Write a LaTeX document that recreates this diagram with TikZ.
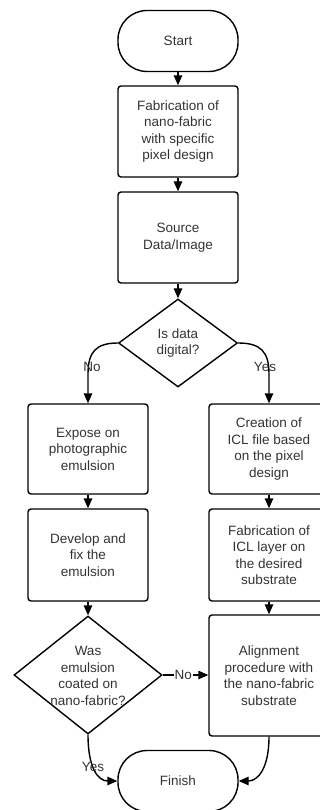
\documentclass[tikz,border=0pt]{standalone}
\usepackage{fontspec}
\setmainfont{Liberation Sans}
\usetikzlibrary{shapes.geometric,arrows.meta}
\begin{document}
\begin{tikzpicture}[x=1pt,y=-1pt,
  every node/.style={font=\fontsize{13.5}{16.5}\selectfont, text=black!80},
  box/.style={draw, line width=1.4pt, rounded corners=3pt, minimum width=120pt, align=center, inner sep=0pt},
  term/.style={draw, line width=1.4pt, rounded corners=29pt, minimum width=120pt, minimum height=61pt, inner sep=0pt},
  decision/.style={draw, diamond, line width=1.4pt, inner sep=0pt},
  arr/.style={line width=1.4pt, -{Triangle[length=10pt,width=8.5pt]}},
  lbl/.style={inner sep=1pt, align=center}]
\useasboundingbox (0,0) rectangle (320,810);
\clip (0,0) rectangle (320,810);
\node[term] (start) at (178,41) {Start};
\node[box, minimum height=91pt] (b1) at (178,131.5) {Fabrication of\\nano-fabric\\with specific\\pixel design};
\node[box, minimum height=91pt] (b2) at (178,237.5) {Source\\Data/Image};
\node[decision, minimum width=119pt, minimum height=88pt] (d1) at (178,343) {};
\node[lbl] (d1t) at (d1.center) {Is data\\digital?};
\node[box, minimum height=90pt] (l1) at (88,449) {Expose on\\photographic\\emulsion};
\node[box, minimum height=92pt] (l2) at (88,555) {Develop and\\fix the\\emulsion};
\node[decision, minimum width=148pt, minimum height=118pt] (d2) at (88,675) {};
\node[lbl] (d2t) at (88,676) {Was\\emulsion\\coated on\\nano-fabric?};
\node[box, minimum height=90pt] (r1) at (269,449) {Creation of\\ICL file based\\on the pixel\\design};
\node[box, minimum height=92pt] (r2) at (269,555) {Fabrication of\\ICL layer on\\the desired\\substrate};
\node[box, minimum height=121pt] (r3) at (269,675.5) {Alignment\\procedure with\\the nano-fabric\\substrate};
\node[term] (fin) at (178,781) {Finish};
\draw[arr] (start) -- (b1);
\draw[arr] (b1) -- (b2);
\draw[arr] (b2) -- (d1);
\draw[arr] (d1.west) .. controls (96,343) and (88,352) .. (88,374) -- (l1.north);
\node[lbl] (no1) at (92,367) {No};
\draw[arr] (d1.east) .. controls (261,343) and (269,352) .. (269,374) -- (r1.north);
\node[lbl] (yes1) at (265,367) {Yes};
\draw[arr] (l1) -- (l2);
\draw[arr] (l2) -- (d2);
\draw[arr] (r1) -- (r2);
\draw[arr] (r2) -- (r3);
\draw[arr] (d2.east) -- node[lbl, fill=white, pos=0.45] (no2) {No} (d2.east -| r3.west);
\draw[arr] (d2.south) .. controls (88,768) and (98,781) .. (fin.west);
\node[lbl] (yes2) at (93,767) {Yes};
\draw[arr] (r3.south) .. controls (269,768) and (258,781) .. (fin.east);
\end{tikzpicture}
\end{document}
